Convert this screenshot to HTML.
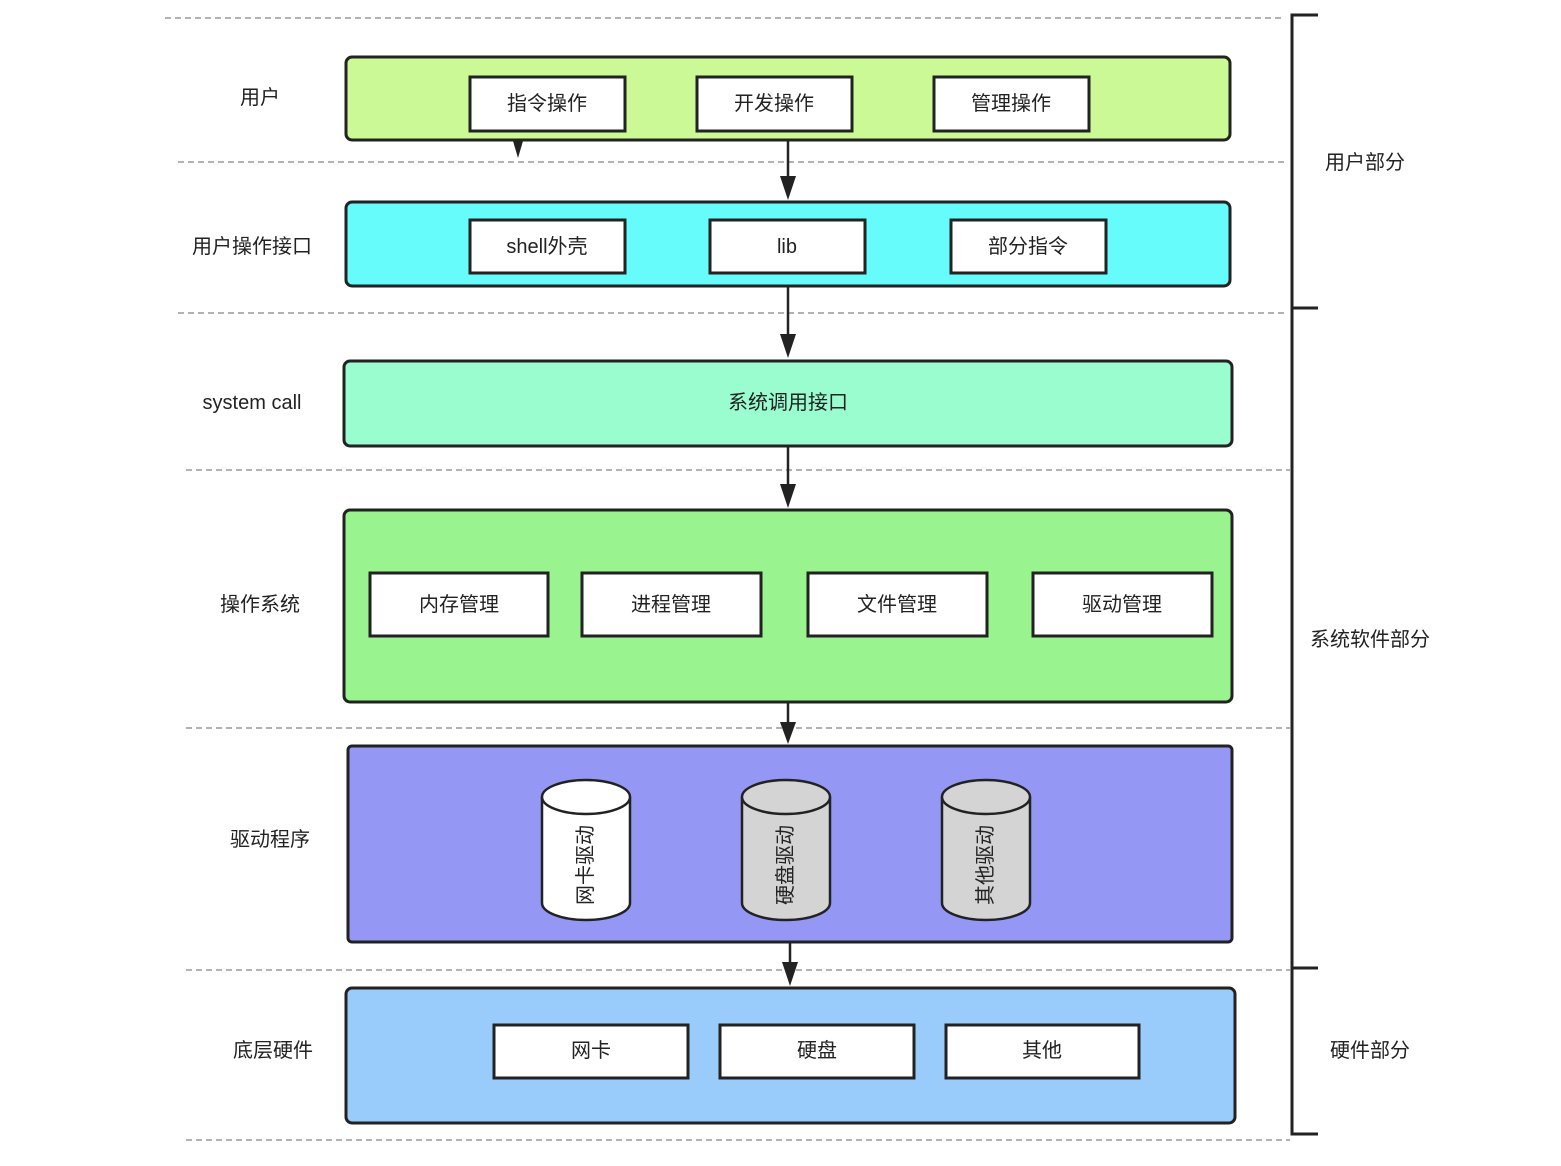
<!DOCTYPE html>
<html><head><meta charset="utf-8"><style>
html,body{margin:0;padding:0;background:#fff;}
svg text{font-family:"Liberation Sans","Noto Sans CJK SC",sans-serif;font-size:20px;fill:#222;}
</style></head><body>
<svg width="1561" height="1161" viewBox="0 0 1561 1161" xmlns="http://www.w3.org/2000/svg">
<defs>
<marker id="ah" markerWidth="10" markerHeight="12" refX="5" refY="12" orient="auto" markerUnits="userSpaceOnUse" viewBox="0 0 10 12">
</marker>
</defs>
<g stroke="#999" stroke-width="1.5" stroke-dasharray="6,4" fill="none">
<line x1="165" y1="18" x2="1285" y2="18"/>
<line x1="178" y1="162" x2="1285" y2="162"/>
<line x1="178" y1="313" x2="1285" y2="313"/>
<line x1="186" y1="470" x2="1290" y2="470"/>
<line x1="186" y1="728" x2="1290" y2="728"/>
<line x1="186" y1="970" x2="1290" y2="970"/>
<line x1="186" y1="1140" x2="1290" y2="1140"/>
</g>
<g stroke="#222" stroke-width="3" fill="none">
<polyline points="1318,15 1292,15 1292,308 1318,308"/>
<polyline points="1292,308 1292,968 1318,968"/>
<polyline points="1292,968 1292,1134 1318,1134"/>
</g>
<g stroke="#222" stroke-width="3">
<rect x="346" y="57" width="884" height="83" rx="6" fill="#cbf995"/>
<rect x="346" y="202" width="884" height="84" rx="6" fill="#66fcfc"/>
<rect x="344" y="361" width="888" height="85" rx="6" fill="#99fdd0"/>
<rect x="344" y="510" width="888" height="192" rx="6" fill="#99f38e"/>
<rect x="348" y="746" width="884" height="196" rx="4" fill="#9597f5"/>
<rect x="346" y="988" width="889" height="135" rx="6" fill="#99ccfa"/>
</g>
<g stroke="#222" stroke-width="3" fill="#fff">
<rect x="470" y="77" width="155" height="54"/>
<rect x="697" y="77" width="155" height="54"/>
<rect x="934" y="77" width="155" height="54"/>
<rect x="470" y="220" width="155" height="53"/>
<rect x="710" y="220" width="155" height="53"/>
<rect x="951" y="220" width="155" height="53"/>
<rect x="370" y="573" width="178" height="63"/>
<rect x="582" y="573" width="179" height="63"/>
<rect x="808" y="573" width="179" height="63"/>
<rect x="1033" y="573" width="179" height="63"/>
<rect x="494" y="1025" width="194" height="53"/>
<rect x="720" y="1025" width="194" height="53"/>
<rect x="946" y="1025" width="193" height="53"/>
</g>
<g stroke="#222" stroke-width="2.5">
<path d="M542,797 L542,903 A44,17 0 0 0 630,903 L630,797" fill="#fff"/>
<ellipse cx="586" cy="797" rx="44" ry="17" fill="#fff"/>
<path d="M742,797 L742,903 A44,17 0 0 0 830,903 L830,797" fill="#d4d4d4"/>
<ellipse cx="786" cy="797" rx="44" ry="17" fill="#d4d4d4"/>
<path d="M942,797 L942,903 A44,17 0 0 0 1030,903 L1030,797" fill="#d4d4d4"/>
<ellipse cx="986" cy="797" rx="44" ry="17" fill="#d4d4d4"/>
</g>
<g stroke="#222" stroke-width="2.5">
<line x1="788" y1="140" x2="788" y2="182"/>
<line x1="788" y1="286" x2="788" y2="340"/>
<line x1="788" y1="446" x2="788" y2="490"/>
<line x1="788" y1="702" x2="788" y2="726"/>
<line x1="790" y1="942" x2="790" y2="968"/>
</g>
<g fill="#222">
<polygon points="780,176 796,176 788,200"/>
<polygon points="780,334 796,334 788,358"/>
<polygon points="780,484 796,484 788,508"/>
<polygon points="780,722 796,722 788,744"/>
<polygon points="782,962 798,962 790,986"/>
<polygon points="513,141 523,141 518,158"/>
</g>
<g text-anchor="middle" dominant-baseline="central">
<text x="547" y="104">指令操作</text>
<text x="774" y="104">开发操作</text>
<text x="1011" y="104">管理操作</text>
<text x="547" y="247">shell外壳</text>
<text x="787" y="247">lib</text>
<text x="1028" y="247">部分指令</text>
<text x="788" y="403">系统调用接口</text>
<text x="459" y="605">内存管理</text>
<text x="671" y="605">进程管理</text>
<text x="897" y="605">文件管理</text>
<text x="1122" y="605">驱动管理</text>
<text x="591" y="1051">网卡</text>
<text x="817" y="1051">硬盘</text>
<text x="1042" y="1051">其他</text>
<text transform="translate(586,865) rotate(-90)">网卡驱动</text>
<text transform="translate(786,865) rotate(-90)">硬盘驱动</text>
<text transform="translate(986,865) rotate(-90)">其他驱动</text>
<text x="260" y="98">用户</text>
<text x="252" y="247">用户操作接口</text>
<text x="252" y="403">system call</text>
<text x="260" y="605">操作系统</text>
<text x="270" y="840">驱动程序</text>
<text x="273" y="1051">底层硬件</text>
<text x="1365" y="163">用户部分</text>
<text x="1370" y="640">系统软件部分</text>
<text x="1370" y="1051">硬件部分</text>
</g>
</svg>
</body></html>
